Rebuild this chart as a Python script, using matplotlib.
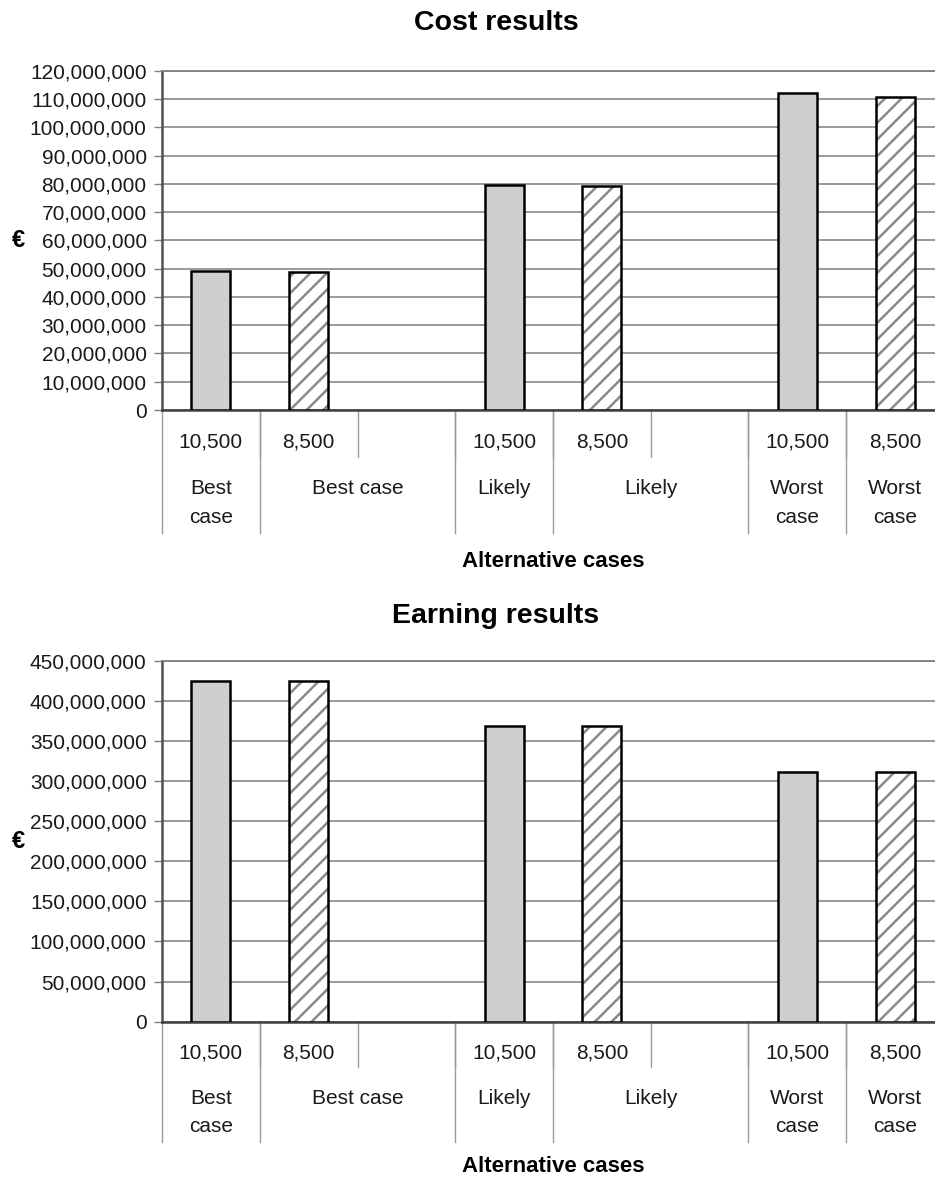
import numpy as np
import matplotlib
matplotlib.use('Agg')
from matplotlib import pyplot as plt

plt.rcParams['font.family'] = ['Liberation Sans', 'DejaVu Sans']
plt.rcParams['hatch.linewidth'] = 1.8

# category axis (two levels, like the Excel original)
inner_labels = ['10,500', '8,500', '', '10,500', '8,500', '', '10,500', '8,500']
outer_labels = ['Best\ncase', 'Best case', 'Likely', 'Likely', 'Worst\ncase', 'Worst\ncase']
outer_spans = [1, 2, 1, 2, 1, 1]

# values in euro, nan = empty slot
cost_values = [49.0e6, 48.9e6, np.nan, 79.7e6, 79.1e6, np.nan, 112.2e6, 110.7e6]
earning_values = [425.0e6, 424.5e6, np.nan, 368.5e6, 368.5e6, np.nan, 310.8e6, 310.8e6]

W, H = 935, 1178
fig = plt.figure(figsize=(W / 100, H / 100), dpi=100)


def add_axes_px(left, top, right, bottom):
    return fig.add_axes([left / W, 1 - bottom / H, (right - left) / W, (bottom - top) / H])


def draw_chart(ax, values, ymax, step, title, title_base, offs):
    # offs: pixel distances below the zero line
    h_px = ax.get_position().height * H
    x = np.arange(len(inner_labels))
    vals = np.array(values, dtype=float)
    big = np.array([lab == '10,500' for lab in inner_labels])
    small = np.array([lab == '8,500' for lab in inner_labels])

    ax.bar(x[big], vals[big], width=0.4, color='#cfcfcf', edgecolor='black', linewidth=1.8, zorder=3)
    ax.bar(x[small], vals[small], width=0.4, color='white', edgecolor='#8a8a8a', hatch='//',
           linewidth=0, zorder=3)
    ax.bar(x[small], vals[small], width=0.4, fill=False, edgecolor='black', linewidth=1.8, zorder=4)

    ax.set_xlim(-0.5, len(inner_labels) - 0.5)
    ax.set_ylim(0, ymax)
    ax.set_yticks(np.arange(0, ymax + step, step))
    ax.set_yticklabels(['{:,.0f}'.format(t) for t in np.arange(0, ymax + step, step)])
    ax.set_xticks([])
    ax.yaxis.grid(True, color='#7f7f7f', linewidth=1.1)
    ax.set_axisbelow(True)
    ax.tick_params(axis='y', length=6, width=1, color='#7f7f7f', pad=5, labelsize=15,
                   labelcolor='#1a1a1a')
    ax.spines['right'].set_visible(False)
    ax.spines['top'].set_color('#7f7f7f')
    ax.spines['top'].set_linewidth(1.3)
    ax.spines['left'].set_color('#505050')
    ax.spines['left'].set_linewidth(1.8)
    ax.spines['bottom'].set_color('#404040')
    ax.spines['bottom'].set_linewidth(1.8)

    tr = ax.get_xaxis_transform()
    fy = lambda px: -px / h_px

    # inner row labels and short separators
    for i, lab in enumerate(inner_labels):
        ax.text(i, fy(offs['inner']), lab, transform=tr, ha='center', va='baseline',
                fontsize=15, color='#1a1a1a')
        if i > 0:
            ax.plot([i - 0.5, i - 0.5], [0, fy(offs['short'])], transform=tr,
                    color='#9a9a9a', linewidth=1, clip_on=False)

    # outer row labels and long separators
    start = 0
    for lab, span in zip(outer_labels, outer_spans):
        ax.plot([start - 0.5, start - 0.5], [0, fy(offs['long'])], transform=tr,
                color='#9a9a9a', linewidth=1, clip_on=False)
        xc = start + (span - 1) / 2
        for k, line in enumerate(lab.split('\n')):
            ax.text(xc, fy(offs['outer'] + k * offs['gap']), line, transform=tr,
                    ha='center', va='baseline', fontsize=15, color='#1a1a1a')
        start += span

    ax.text(0.5, fy(offs['xlabel']), 'Alternative cases', transform=ax.transAxes,
            ha='center', va='baseline', fontsize=16, fontweight='bold')

    fig.text(496 / W, 1 - title_base / H, title, ha='center', va='baseline',
             fontsize=20.5, fontweight='bold')
    pos = ax.get_position()
    fig.text(18 / W, pos.y0 + pos.height / 2, '€', ha='center', va='center',
             fontsize=17, fontweight='bold')


ax1 = add_axes_px(162, 70.7, 944, 410)
draw_chart(ax1, cost_values, 120e6, 10e6, 'Cost results', 30,
           dict(inner=37.5, outer=84.3, gap=29, short=47, long=123, xlabel=156.5))

ax2 = add_axes_px(162, 660.7, 944, 1021.7)
draw_chart(ax2, earning_values, 450e6, 50e6, 'Earning results', 623,
           dict(inner=36.6, outer=82.3, gap=28.3, short=45, long=120, xlabel=150))

plt.savefig('out.png', dpi=100)
